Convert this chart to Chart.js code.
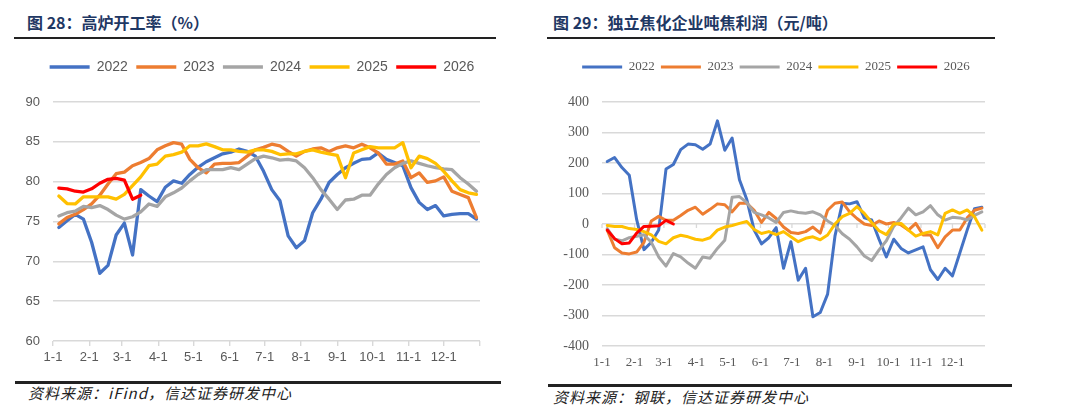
<!DOCTYPE html>
<html>
<head>
<meta charset="utf-8">
<script src="https://cdn.jsdelivr.net/npm/chart.js@4.4.0/dist/chart.umd.min.js"></script>
<style>
body { margin: 0; width: 1080px; height: 416px; background: #fff; position: relative; overflow: hidden; font-family: "Noto Sans CJK SC", sans-serif; }
.title { position: absolute; top: 11px; font-size: 16px; font-weight: bold; color: #1f3864; line-height: 22px; white-space: nowrap; }
.rule { position: absolute; background: #222; }
.src { position: absolute; font-size: 15px; font-style: italic; color: #222; letter-spacing: 1px; line-height: 20px; white-space: nowrap; }
canvas { position: absolute; }
</style>
</head>
<body>
<div class="title" style="left:27px">图 28：高炉开工率（%）</div>
<div class="rule" style="left:14px; top:37px; width:482px; height:2px"></div>
<div class="title" style="left:553px">图 29：独立焦化企业吨焦利润（元/吨）</div>
<div class="rule" style="left:547px; top:37px; width:448px; height:2px"></div>

<canvas id="canvasFurnace" width="500" height="330" style="left:0; top:40px"></canvas>
<canvas id="canvasCoke" width="470" height="330" style="left:540px; top:40px"></canvas>

<div class="rule" style="left:15px; top:381px; width:486px; height:3px"></div>
<div class="src" style="left:28px; top:383px">资料来源：iFind，信达证券研发中心</div>
<div class="rule" style="left:548px; top:384px; width:464px; height:3px"></div>
<div class="src" style="left:553px; top:387px">资料来源：钢联，信达证券研发中心</div>

<script>
"use strict"

// weekly points, placed on a day-of-year axis
const weekDays = Array.from({ length: 52 }, (_, i) => 5 + 7 * i)
const monthDays = [0, 31, 59, 90, 120, 151, 181, 212, 243, 273, 304, 334, 365]
const monthLabels = ['1-1', '2-1', '3-1', '4-1', '5-1', '6-1', '7-1', '8-1', '9-1', '10-1', '11-1', '12-1', '']
const years = ['2022', '2023', '2024', '2025', '2026']
const colors = ['#4472C4', '#ED7D31', '#A5A5A5', '#FFC000', '#FF0000']

// 高炉开工率 (%)
const furnace2022 = [74.25, 75.1, 75.9, 75.3, 72.4, 68.5, 69.5, 73.3, 74.8, 70.8,
	79, 78.2, 77.5, 79.3, 80.1, 79.8, 80.9, 81.8, 82.5, 83,
	83.5, 83.7, 84.1, 83.8, 83.2, 81.3, 79, 77.6, 73.2, 71.7,
	72.6, 76.1, 77.8, 79.9, 80.9, 81.75, 82.3, 82.8, 82.9, 83.6,
	82.8, 82.4, 82, 79.25, 77.4, 76.5, 77, 75.7, 75.9, 76, 76, 75.3]
const furnace2023 = [74.7, 75.5, 75.9, 76.5, 77.2, 78.3, 79.7, 81, 81.2, 82,
	82.4, 82.9, 84, 84.5, 84.9, 84.7, 82.8, 81.75, 81.1, 82.2,
	82.3, 82.3, 82.4, 83.2, 84, 84.3, 84.7, 84.5, 83.8, 83.2,
	83.8, 84.1, 84.25, 83.8, 84.25, 84.5, 84.25, 84.7, 84.25, 83.6,
	82.2, 82.2, 82.6, 80.5, 81.1, 79.9, 80.1, 80.6, 78.8, 78.4, 78, 75.5]
const furnace2024 = [75.7, 76.1, 76.3, 76.9, 76.75, 77, 76.5, 75.8, 75.3, 75.6,
	76.2, 77.2, 76.9, 78.1, 78.6, 79.2, 80.1, 80.9, 81.5, 81.5,
	81.5, 81.75, 81.5, 82.2, 82.9, 83.2, 83, 82.7, 82.8, 82.6,
	81.75, 80.5, 79, 77.8, 76.5, 77.7, 77.8, 78.3, 78.3, 79.7,
	80.9, 81.75, 82.3, 82.6, 82.3, 82, 81.75, 81.6, 81.5, 80.5, 79.7, 78.8]
const furnace2025 = [78.2, 77.25, 77.2, 78.1, 78.1, 78.1, 78.1, 77.8, 78.4, 79.5,
	80.6, 82, 82.2, 83.2, 83.4, 83.7, 84.5, 84.5, 84.75, 84.4,
	84, 84, 83.8, 83.7, 84, 84, 83.8, 83.4, 83.5, 83.5,
	83.8, 84, 83.7, 83.5, 83.3, 80.5, 83.6, 84, 84.4, 84.25,
	84.25, 84.25, 84.9, 81.75, 83.2, 82.9, 82.3, 81.3, 80.1, 79, 78.6, 78.4]
const furnace2026 = [79.2, 79.1, 78.8, 78.7, 79.1, 79.8, 80.3, 80.4, 80.2, 77.8, 78.3]

// 独立焦化企业吨焦利润 (元/吨)
const coke2022 = [205, 218, 185, 160, 15, -84, -60, -20, 180, 195,
	244, 262, 260, 245, 262, 338, 242, 282, 145, 80,
	-20, -65, -45, -12, -145, -58, -184, -145, -304, -290,
	-230, -40, 68, 66, 73, 20, 13, -50, -108, -50,
	-80, -95, -85, -75, -150, -182, -145, -170, -95, -20, 50, 55]
const coke2023 = [-20, -78, -95, -98, -92, -60, 10, 25, 12, 12,
	28, 45, 55, 32, 48, 66, 63, 40, 68, 68,
	45, 5, 38, 18, -10, -28, -31, -25, -10, -30,
	45, 68, 72, 40, 18, 0, -5, 10, 0, 5,
	-3, -20, 2, -36, -36, -78, -42, -20, -20, 20, 45, 52]
const coke2024 = [-15, -50, -55, -45, -40, -35, -60, -108, -138, -97,
	-108, -128, -145, -108, -112, -80, -53, 88, 90, 70,
	38, 30, 20, 5, 38, 43, 38, 35, 40, 30,
	10, -5, -32, -50, -75, -105, -120, -85, -55, -8,
	20, 52, 30, 40, 60, 30, 13, 22, 20, 13, 28, 40]
const coke2025 = [-5, -8, -8, -15, -18, -25, -36, -57, -65, -45,
	-37, -42, -50, -53, -45, -20, -10, -5, 2, 8,
	-18, -31, -25, -35, -25, -42, -58, -47, -42, -52,
	-36, 0, 24, 35, 57, 35, 5, -22, -35, 0,
	2, -20, -40, -31, -25, -36, 35, 46, 35, 46, 24, -20]
const coke2026 = [-20, -48, -65, -62, -30, -8, -7, -6, 12, 0]

const furnaceTicks = [60, 65, 70, 75, 80, 85, 90]
const cokeTicks = [-400, -300, -200, -100, 0, 100, 200, 300, 400]

function MakeDatasets(series, width) {
	return series.map(function (vals, k) {
		return {
			label: years[k],
			data: vals.map((v, i) => ({ x: weekDays[i], y: v })),
			borderColor: colors[k],
			backgroundColor: colors[k],
			borderWidth: width,
			pointRadius: 0,
			tension: 0,
			borderCapStyle: 'round',
			borderJoinStyle: 'round',
			order: series.length - k
		}
	})
}

// push the plot down below the legend, and slide the legend sideways
function LegendTweak(extra, dx) {
	return {
		id: 'legendTweak',
		beforeInit(chart) {
			const fit = chart.legend.fit
			chart.legend.fit = function () {
				fit.call(this)
				this.height += extra
			}
		},
		afterLayout(chart) {
			chart.legend.left += dx
			chart.legend.right += dx
		}
	}
}

// small tick marks on the zero line (right chart)
const zeroTicks = {
	id: 'zeroTicks',
	beforeDatasetsDraw(chart) {
		const xs = chart.scales.x
		const y0 = chart.scales.y.getPixelForValue(0)
		const ctx = chart.ctx
		ctx.save()
		ctx.strokeStyle = '#d9d9d9'
		ctx.lineWidth = 1.3
		monthDays.forEach(function (d) {
			const px = xs.getPixelForValue(d)
			ctx.beginPath()
			ctx.moveTo(px, y0)
			ctx.lineTo(px, y0 + 4)
			ctx.stroke()
		})
		ctx.restore()
	}
}

function XScale(font, gridOpts, height, pad) {
	return {
		type: 'linear',
		min: 0,
		max: 365,
		afterBuildTicks: function (scale) {
			scale.ticks = monthDays.map(d => ({ value: d }))
		},
		afterFit: function (scale) { scale.height = height },
		ticks: {
			autoSkip: false,
			maxRotation: 0,
			padding: pad,
			color: '#595959',
			font: font,
			callback: function (value) { return monthLabels[monthDays.indexOf(value)] }
		},
		grid: gridOpts,
		border: { display: false }
	}
}

function YScale(font, tickVals, width) {
	return {
		min: tickVals[0],
		max: tickVals[tickVals.length - 1],
		afterBuildTicks: function (scale) {
			scale.ticks = tickVals.map(v => ({ value: v }))
		},
		afterFit: function (scale) { scale.width = width },
		ticks: { padding: 13, color: '#595959', font: font },
		grid: { color: '#d9d9d9', lineWidth: 1.4, drawTicks: false },
		border: { display: false }
	}
}

function LegendOpts(font, pad) {
	return {
		display: true,
		position: 'top',
		labels: {
			usePointStyle: true,
			pointStyle: 'line',
			pointStyleWidth: 40,
			padding: pad,
			color: '#595959',
			font: font,
			sort: (a, b) => a.datasetIndex - b.datasetIndex
		}
	}
}

// 高炉开工率
const sansFont = { family: 'Liberation Sans, Arial, sans-serif', size: 13 }
new Chart(document.getElementById('canvasFurnace').getContext('2d'), {
	type: 'line',
	data: { datasets: MakeDatasets([furnace2022, furnace2023, furnace2024, furnace2025, furnace2026], 3.3) },
	options: {
		responsive: false,
		animation: false,
		layout: { padding: { left: 0, right: 20, top: 11.5, bottom: 0 } },
		scales: {
			x: XScale(sansFont, { drawOnChartArea: false, drawTicks: true, tickLength: 5, color: '#d9d9d9', lineWidth: 1.4 }, 29, 4),
			y: YScale(sansFont, furnaceTicks, 53)
		},
		plugins: {
			legend: LegendOpts({ family: 'Liberation Sans, Arial, sans-serif', size: 14 }, 8.5),
			tooltip: { enabled: false }
		}
	},
	plugins: [LegendTweak(18, 22)]
})

// 吨焦利润
const serifFont = { family: 'Liberation Serif, Times New Roman, serif', size: 13 }
new Chart(document.getElementById('canvasCoke').getContext('2d'), {
	type: 'line',
	data: { datasets: MakeDatasets([coke2022, coke2023, coke2024, coke2025, coke2026], 3) },
	options: {
		responsive: false,
		animation: false,
		layout: { padding: { left: 0, right: 25, top: 14.25, bottom: 0 } },
		scales: {
			x: XScale(serifFont, { display: false, drawTicks: false }, 24, 9),
			y: YScale({ family: 'Liberation Serif, Times New Roman, serif', size: 14 }, cokeTicks, 62)
		},
		plugins: {
			legend: LegendOpts(serifFont, 6.25),
			tooltip: { enabled: false }
		}
	},
	plugins: [LegendTweak(18.5, 13.4), zeroTicks]
})
</script>
</body>
</html>
